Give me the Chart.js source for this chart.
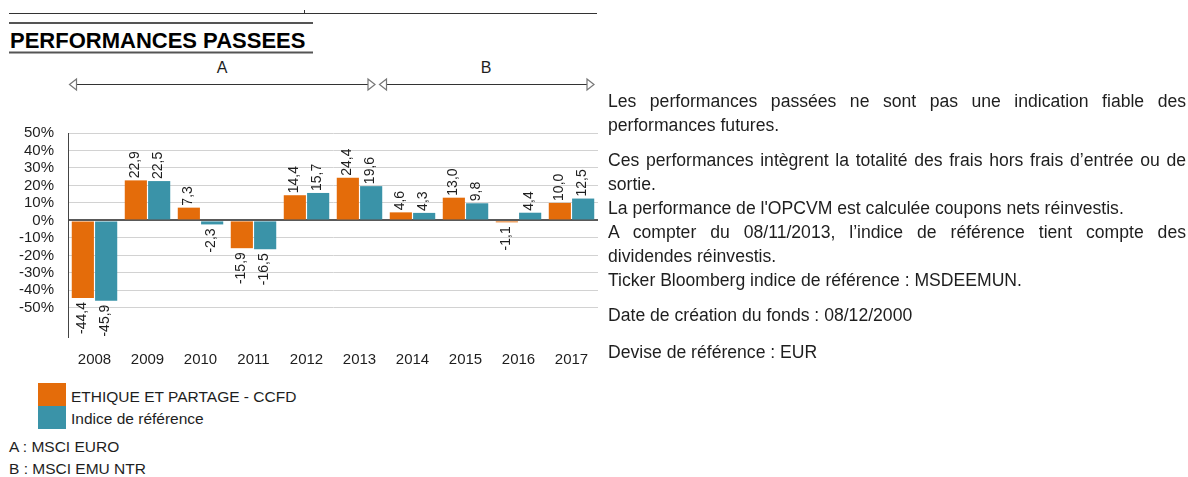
<!DOCTYPE html>
<html>
<head>
<meta charset="utf-8">
<script src="https://cdn.jsdelivr.net/npm/chart.js@4.4.0/dist/chart.umd.min.js"></script>
<style>
  body { margin: 0; background: #fff; font-family: "Liberation Sans", Arial, sans-serif; color: #1e1e1e; }
  #page { position: relative; width: 1188px; height: 477px; overflow: hidden; }
  #chartBox { position: absolute; left: 0; top: 110px; width: 610px; height: 265px; }
  .txt { position: absolute; white-space: nowrap; }
  .right { left: 608px; width: 578px; font-size: 17.6px; line-height: 24px; }
  .just { text-align: justify; text-align-last: justify; }
  .small { font-size: 15.5px; line-height: 20px; }
  .box { position: absolute; left: 38px; width: 28px; height: 23px; }
</style>
</head>
<body>
<div id="page">
  <svg width="610" height="100" style="position:absolute;left:0;top:0">
    <line x1="9" y1="13.5" x2="597" y2="13.5" stroke="#333" stroke-width="1"/>
    <line x1="304.5" y1="10" x2="304.5" y2="13" stroke="#333" stroke-width="1"/>
    <line x1="9" y1="23" x2="313" y2="23" stroke="#555" stroke-width="2"/>
    <text x="10" y="47.5" font-family="Liberation Sans, Arial" font-weight="bold" font-size="22" fill="#000">PERFORMANCES PASSEES</text>
    <line x1="9" y1="52.5" x2="313" y2="52.5" stroke="#555" stroke-width="2"/>
    <text x="222" y="73" text-anchor="middle" font-family="Liberation Sans, Arial" font-size="16" fill="#1e1e1e">A</text>
    <text x="486" y="73" text-anchor="middle" font-family="Liberation Sans, Arial" font-size="16" fill="#1e1e1e">B</text>
    <line x1="76" y1="84.5" x2="368" y2="84.5" stroke="#333" stroke-width="1"/>
    <line x1="386" y1="84.5" x2="587" y2="84.5" stroke="#333" stroke-width="1"/>
    <g fill="#fff" stroke="#777" stroke-width="1.2">
      <polygon points="69.5,84.5 76.5,79 76.5,90"/>
      <polygon points="375,84.5 368,79 368,90"/>
      <polygon points="379.5,84.5 386.5,79 386.5,90"/>
      <polygon points="594,84.5 587,79 587,90"/>
    </g>
  </svg>

  <div id="chartBox"><canvas id="perfChart" width="610" height="265"></canvas></div>

  <div class="box" style="top:383px;background:#e46c0a"></div>
  <div class="box" style="top:406px;background:#3a93a8"></div>
  <div class="txt small" style="left:71px;top:387px">ETHIQUE ET PARTAGE - CCFD</div>
  <div class="txt small" style="left:71px;top:409px">Indice de référence</div>
  <div class="txt small" style="left:9px;top:437px">A : MSCI EURO</div>
  <div class="txt small" style="left:9px;top:459px">B : MSCI EMU NTR</div>

  <div class="txt right just" style="top:89px">Les performances passées ne sont pas une indication fiable des</div>
  <div class="txt right" style="top:113px">performances futures.</div>
  <div class="txt right just" style="top:148px">Ces performances intègrent la totalité des frais hors frais d’entrée ou de</div>
  <div class="txt right" style="top:172px">sortie.</div>
  <div class="txt right" style="top:196px">La performance de l'OPCVM est calculée coupons nets réinvestis.</div>
  <div class="txt right just" style="top:220px">A compter du 08/11/2013, l’indice de référence tient compte des</div>
  <div class="txt right" style="top:244px">dividendes réinvestis.</div>
  <div class="txt right" style="top:268px">Ticker Bloomberg indice de référence : MSDEEMUN.</div>
  <div class="txt right" style="top:303px">Date de création du fonds : 08/12/2000</div>
  <div class="txt right" style="top:340px">Devise de référence : EUR</div>
</div>

<script>
// data
const years = ['2008', '2009', '2010', '2011', '2012', '2013', '2014', '2015', '2016', '2017'];
const fundPerf = [-44.4, 22.9, 7.3, -15.9, 14.4, 24.4, 4.6, 13.0, -1.1, 10.0];
const indexPerf = [-45.9, 22.5, -2.3, -16.5, 15.7, 19.6, 4.3, 9.8, 4.4, 12.5];
const yTicks = [-50, -40, -30, -20, -10, 0, 10, 20, 30, 40, 50];

const orange = '#e46c0a';
const teal = '#3a93a8';

// value labels, rotated, above positive bars and below negative ones
const barLabels = {
    id: 'barLabels',
    afterDatasetsDraw(chart) {
        const ctx = chart.ctx;
        ctx.save();
        ctx.font = '14px "Liberation Sans", Arial, sans-serif';
        ctx.fillStyle = '#1e1e1e';
        ctx.textBaseline = 'middle';
        chart.data.datasets.forEach((ds, i) => {
            chart.getDatasetMeta(i).data.forEach((bar, j) => {
                const v = ds.data[j];
                const txt = v.toFixed(1).replace('.', ',');
                ctx.save();
                if (v >= 0) {
                    ctx.translate(bar.x - 1, bar.y - 2);
                    ctx.textAlign = 'left';
                } else {
                    ctx.translate(bar.x - 1, bar.y + 4);
                    ctx.textAlign = 'right';
                }
                ctx.rotate(-Math.PI / 2);
                ctx.fillText(txt, 0, 0);
                ctx.restore();
            });
        });
        ctx.restore();
    }
};

const perfChart = new Chart(document.getElementById('perfChart'), {
    type: 'bar',
    data: {
        labels: years,
        datasets: [{
            label: 'ETHIQUE ET PARTAGE - CCFD',
            data: fundPerf,
            backgroundColor: orange,
            borderWidth: 0,
            categoryPercentage: 0.88,
            barPercentage: 0.95
        }, {
            label: 'Indice de référence',
            data: indexPerf,
            backgroundColor: teal,
            borderWidth: 0,
            categoryPercentage: 0.88,
            barPercentage: 0.95
        }]
    },
    options: {
        responsive: false,
        animation: false,
        devicePixelRatio: 1,
        layout: { padding: { top: 20, right: 12, bottom: 0, left: 0 } },
        plugins: {
            legend: { display: false },
            tooltip: { enabled: false }
        },
        scales: {
            x: {
                grid: { display: false, drawTicks: false },
                border: { display: false },
                ticks: {
                    padding: 14,
                    color: '#1e1e1e',
                    font: { family: '"Liberation Sans", Arial, sans-serif', size: 15 }
                },
                afterFit(scale) { scale.height = 38; }
            },
            y: {
                min: -66.7,
                max: 50,
                afterBuildTicks(scale) {
                    scale.ticks = yTicks.map(v => ({ value: v }));
                },
                afterFit(scale) { scale.width = 68; },
                grid: {
                    drawTicks: false,
                    color: c => c.tick && c.tick.value === 0 ? '#595959' : '#d2d2d2',
                    lineWidth: c => c.tick && c.tick.value === 0 ? 2 : 1
                },
                border: { color: '#444', width: 1 },
                ticks: {
                    autoSkip: false,
                    padding: 14,
                    color: '#1e1e1e',
                    font: { family: '"Liberation Sans", Arial, sans-serif', size: 15 },
                    callback: v => v + '%'
                }
            }
        }
    },
    plugins: [barLabels]
});
</script>
</body>
</html>
